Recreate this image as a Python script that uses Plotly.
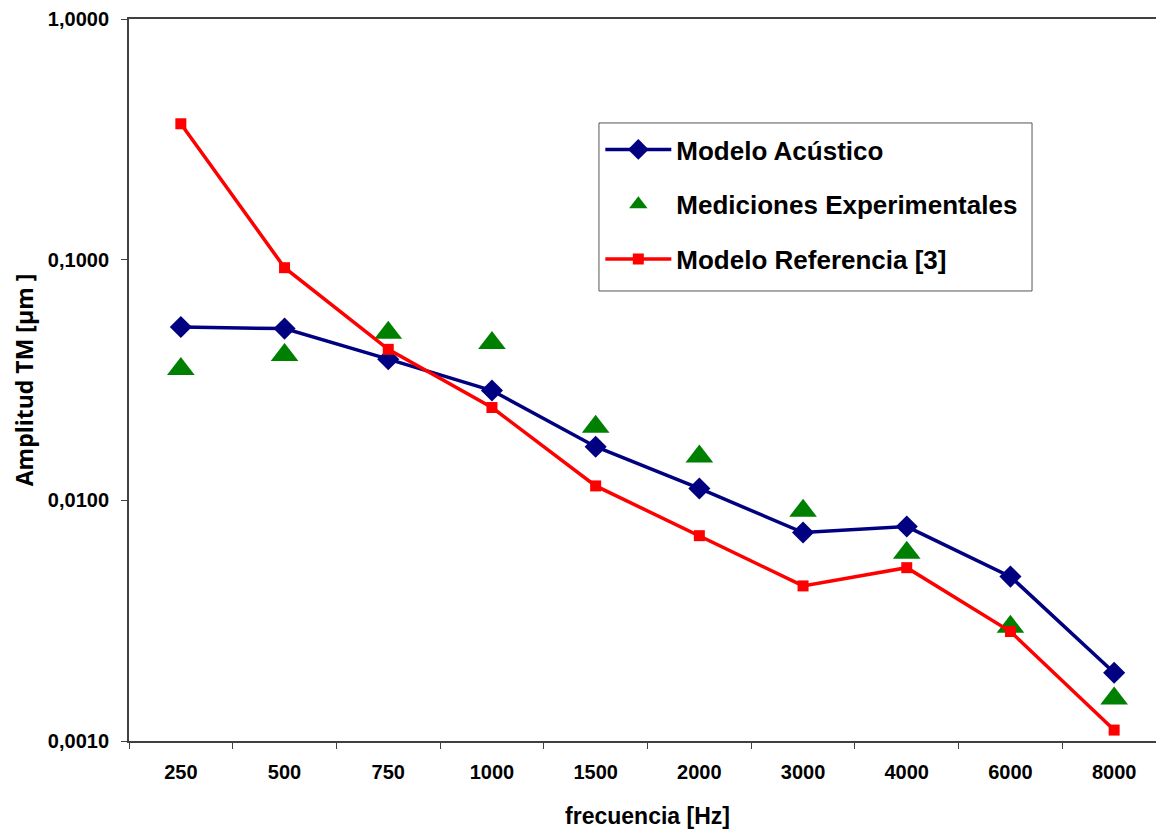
import plotly.graph_objects as go

frecuencias = ["250", "500", "750", "1000", "1500", "2000", "3000", "4000", "6000", "8000"]
modelo_acustico = [0.0525, 0.0517, 0.0386, 0.0286, 0.0167, 0.0112, 0.00735, 0.00778, 0.00482, 0.00192]
mediciones = [0.0351, 0.0402, 0.0497, 0.0451, 0.0202, 0.0152, 0.00906, 0.00606, 0.00298, 0.00150]
modelo_ref = [0.367, 0.0926, 0.0424, 0.0243, 0.01148, 0.00713, 0.00441, 0.00525, 0.00285, 0.00111]

y_tickvals = [0.001, 0.01, 0.1, 1]
y_ticktext = ["0,0010", "0,0100", "0,1000", "1,0000"]

FONT = "Arial, Liberation Sans, sans-serif"

fig = go.Figure()
fig.add_trace(go.Scatter(
    x=frecuencias, y=modelo_acustico, name="Modelo Acústico", mode="lines+markers",
    line=dict(color="#000080", width=3.5),
    marker=dict(symbol="diamond", size=17, color="#000080"),
    legendgroup="a"))
fig.add_trace(go.Scatter(
    x=frecuencias, y=mediciones, name="Mediciones Experimentales", mode="markers",
    marker=dict(symbol="triangle-up", size=24, color="#008000"),
    legendgroup="b"))
fig.add_trace(go.Scatter(
    x=frecuencias, y=modelo_ref, name="Modelo Referencia [3]", mode="lines+markers",
    line=dict(color="#FF0000", width=3.5),
    marker=dict(symbol="square", size=11, color="#FF0000"),
    legendgroup="c"))

# legend frame (decoration)
fig.add_shape(type="rect", xref="paper", yref="paper",
              x0=0.4532, x1=0.8708, y0=0.6233, y1=0.856,
              line=dict(color="#555555", width=1), fillcolor="white", layer="above")

fig.update_layout(
    width=1164, height=831,
    margin=dict(l=121, r=6, t=11, b=98, autoexpand=False),
    plot_bgcolor="white", paper_bgcolor="white",
    font=dict(family=FONT, color="black", size=20, weight="bold"),
    showlegend=True,
    legend=dict(
        x=0.4545, y=0.8518, xanchor="left", yanchor="top",
        bgcolor="rgba(0,0,0,0)", borderwidth=0,
        font=dict(family=FONT, size=26, color="black", weight="bold"),
        tracegroupgap=18, itemwidth=66, traceorder="grouped",
    ),
    xaxis=dict(
        type="category", range=[-0.5, 9.5], automargin=False,
        showline=True, linecolor="#404040", linewidth=2,
        mirror=True, ticks="outside", ticklen=6, tickcolor="#404040",
        tickson="boundaries", showgrid=False, zeroline=False,
        tickfont=dict(family=FONT, size=20, weight="bold"),
        ticklabelstandoff=12,
        title=dict(text="frecuencia [Hz]", font=dict(family=FONT, size=23, weight="bold"), standoff=26),
    ),
    yaxis=dict(
        type="log", range=[-3, 0], automargin=False,
        showline=True, linecolor="#404040", linewidth=2,
        ticks="outside", ticklen=6, tickcolor="#404040",
        tickvals=y_tickvals, ticktext=y_ticktext, showgrid=False, zeroline=False,
        tickfont=dict(family=FONT, size=20, weight="bold"),
        ticklabelstandoff=8,
        title=dict(text="Amplitud TM [µm ]", font=dict(family="Open Sans, sans-serif", size=23, weight="bold"), standoff=22),
    ),
)

fig.write_html("out.html")
